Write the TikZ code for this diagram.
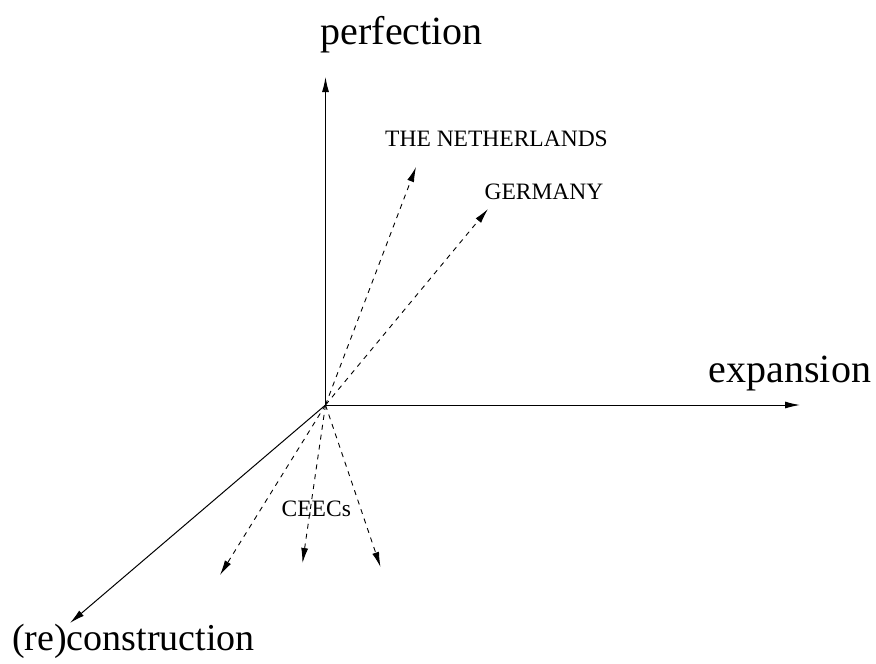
\documentclass[tikz,border=0pt]{standalone}
\usepackage{fontspec}
\setmainfont{Liberation Serif}
\usetikzlibrary{arrows.meta}
\begin{document}
\begin{tikzpicture}[x=1pt,y=-1pt,
  axis/.style={line width=1pt,-{Latex[length=15pt,width=7pt]}},
  vec/.style={line width=0.9pt,dash pattern=on 5pt off 5pt,-{Latex[length=15pt,width=7pt]}},
  biglab/.style={inner sep=0pt,anchor=base,font=\fontsize{40}{48}\selectfont},
  smalllab/.style={inner sep=0pt,anchor=base,font=\fontsize{23.5}{28}\selectfont}]
\useasboundingbox (0,0) rectangle (876,664);
\coordinate (O) at (325.5,405);
\coordinate (P) at (325.5,77);
\coordinate (E) at (800,405);
\coordinate (R) at (70,623);
\coordinate (NL) at (416,167);
\coordinate (DE) at (488,209);
\coordinate (C1) at (220,575);
\coordinate (C2) at (302.5,563);
\coordinate (C3) at (380.5,567);
\draw[axis] (O) -- (P);
\draw[axis] (O) -- (E);
\draw[axis] (O) -- (R);
\draw[vec] (O) -- (NL);
\draw[vec] (O) -- (DE);
\draw[vec] (O) -- (C1);
\draw[vec] (O) -- (C2);
\draw[vec] (O) -- (C3);
\node[biglab] (tp) at (401.7,44) {perfection};
\node[biglab] (te) at (790,382) {expansion};
\node[biglab,font=\fontsize{38}{46}\selectfont] (tr) at (133.5,650) {(re)construction};
\node[smalllab] (tnl) at (496.5,146) {THE NETHERLANDS};
\node[smalllab] (tde) at (544,199.3) {GERMANY};
\node[smalllab] (tc) at (316.3,516.7) {CEECs};
\end{tikzpicture}
\end{document}
